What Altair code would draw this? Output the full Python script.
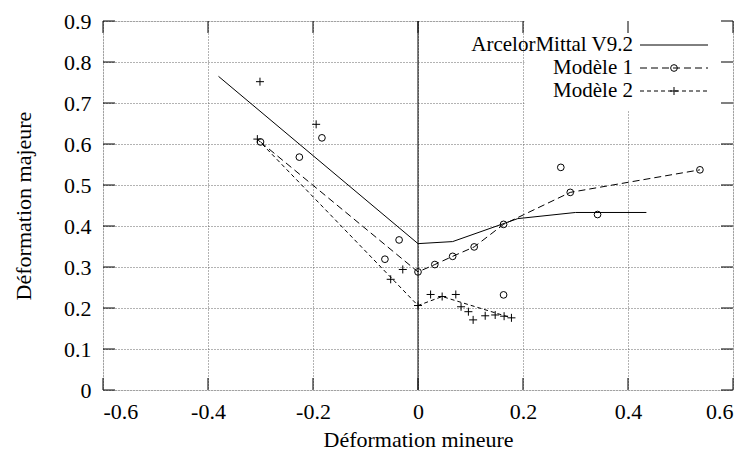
import altair as alt
import pandas as pd

# ---- data ----
AM_X = [-0.38, 0.0, 0.066, 0.19, 0.30, 0.435]
AM_Y = [0.765, 0.357, 0.362, 0.418, 0.433, 0.433]

M1_LINE_X = [-0.300, 0.0, 0.032, 0.066, 0.107, 0.163, 0.290, 0.537]
M1_LINE_Y = [0.605, 0.288, 0.306, 0.326, 0.349, 0.404, 0.482, 0.537]
M1_PTS_X = [-0.183, -0.226, -0.036, -0.063, 0.163, 0.272, 0.342]
M1_PTS_Y = [0.615, 0.568, 0.366, 0.319, 0.232, 0.543, 0.428]

M2_LINE_X = [-0.306, 0.0, 0.046, 0.178]
M2_LINE_Y = [0.612, 0.206, 0.228, 0.176]
M2_PTS_X = [-0.301, -0.194, -0.029, -0.052, 0.024, 0.072, 0.082, 0.096, 0.105, 0.128, 0.147, 0.164]
M2_PTS_Y = [0.752, 0.648, 0.294, 0.270, 0.233, 0.233, 0.203, 0.191, 0.171, 0.181, 0.183, 0.180]

SERIES = ["ArcelorMittal V9.2", "Modèle 1", "Modèle 2"]
X_TICKS = [-0.6, -0.4, -0.2, 0.0, 0.2, 0.4, 0.6]
Y_TICKS = [0.0, 0.1, 0.2, 0.3, 0.4, 0.5, 0.6, 0.7, 0.8, 0.9]

X_TITLE = "Déformation mineure"
Y_TITLE = "Déformation majeure"

# ---- layout / style ----
W, H = 630, 369
FONT = "Liberation Serif"
FS = 22
LFS = 21
TICK = 12
DASH1 = [7, 4]
DASH2 = [4, 3]
PLUS = "M-1,0L1,0M0,-1L0,1"

LABEL_EXPR = "datum.value == 0 ? '0' : replace(format(datum.value, '.1f'), '\u2212', '-')"

xs = alt.Scale(domain=[-0.6, 0.6], nice=False, zero=False)
ys = alt.Scale(domain=[0, 0.9], nice=False, zero=False)

xaxis = alt.Axis(values=X_TICKS, labelExpr=LABEL_EXPR, ticks=False, domain=False,
                 grid=True, gridColor="#666", gridDash=[1, 2], gridWidth=1,
                 labelPadding=11, labelFont=FONT, labelFontSize=FS, labelColor="black",
                 title=X_TITLE, titleFont=FONT, titleFontSize=FS, titleFontWeight="normal",
                 titleColor="black", titleX=W / 2, titleY=49, titleBaseline="middle")
yaxis = alt.Axis(values=Y_TICKS, labelExpr=LABEL_EXPR, ticks=False, domain=False,
                 grid=True, gridColor="#666", gridDash=[1, 2], gridWidth=1,
                 labelPadding=12, labelFont=FONT, labelFontSize=FS, labelColor="black",
                 title=Y_TITLE, titleFont=FONT, titleFontSize=FS, titleFontWeight="normal",
                 titleColor="black", titleX=-80, titleY=H / 2, titleBaseline="middle",
                 titleAngle=-90)

am = pd.DataFrame({"x": AM_X, "y": AM_Y, "i": range(len(AM_X))})
m1l = pd.DataFrame({"x": M1_LINE_X, "y": M1_LINE_Y, "i": range(len(M1_LINE_X))})
m1p = pd.DataFrame({"x": M1_PTS_X, "y": M1_PTS_Y})
m2l = pd.DataFrame({"x": M2_LINE_X, "y": M2_LINE_Y, "i": range(len(M2_LINE_X))})
m2p = pd.DataFrame({"x": M2_PTS_X, "y": M2_PTS_Y})
xt = pd.DataFrame({"v": X_TICKS})
yt = pd.DataFrame({"v": Y_TICKS})
one = pd.DataFrame({"a": [0]})

base = alt.Chart(xt).mark_rule(opacity=0).encode(
    x=alt.X("v:Q", scale=xs, axis=xaxis),
    y=alt.Y("v:Q", scale=ys, axis=yaxis),
)

# white key background (hides grid inside legend box)
keybox = alt.Chart(one).mark_rect(fill="white").encode(
    x=alt.value(421.5), x2=alt.value(W), y=alt.value(0), y2=alt.value(89)
)

zero = alt.Chart(pd.DataFrame({"z": [0.0]})).mark_rule(color="black", strokeWidth=1).encode(
    x=alt.X("z:Q", scale=xs)
)

def line(df, dash):
    kw = dict(color="black", strokeWidth=1)
    if dash:
        kw["strokeDash"] = dash
    return alt.Chart(df).mark_line(**kw).encode(
        x=alt.X("x:Q", scale=xs), y=alt.Y("y:Q", scale=ys), order="i:Q"
    )

def pts(df, shape, size):
    return alt.Chart(df).mark_point(shape=shape, size=size, filled=False,
                                    color="black", strokeWidth=1, opacity=1).encode(
        x=alt.X("x:Q", scale=xs), y=alt.Y("y:Q", scale=ys)
    )

am_line = line(am, None)
m1_line = line(m1l, DASH1)
m1_pts = pts(m1l, "circle", 45) + pts(m1p, "circle", 45)
m2_line = line(m2l, DASH2)
m2_pts = pts(m2l, PLUS, 64) + pts(m2p, PLUS, 64)

# inward ticks on all four sides
tb = alt.Chart(xt).mark_rule(color="black").encode(
    x=alt.X("v:Q", scale=xs), y=alt.value(H), y2=alt.value(H - TICK))
tt = alt.Chart(xt).mark_rule(color="black").encode(
    x=alt.X("v:Q", scale=xs), y=alt.value(0), y2=alt.value(TICK))
tl = alt.Chart(yt).mark_rule(color="black").encode(
    y=alt.Y("v:Q", scale=ys), x=alt.value(0), x2=alt.value(TICK))
tr = alt.Chart(yt).mark_rule(color="black").encode(
    y=alt.Y("v:Q", scale=ys), x=alt.value(W - TICK), x2=alt.value(W))

# legend (key)
ROWS = [24, 47, 70]
TX = 530
LX0, LX1 = 537, 605
leg = []
for name, ry, dash, shape, size in [
    (SERIES[0], ROWS[0], None, None, 0),
    (SERIES[1], ROWS[1], DASH1, "circle", 45),
    (SERIES[2], ROWS[2], DASH2, PLUS, 64),
]:
    d = pd.DataFrame({"t": [name]})
    leg.append(alt.Chart(d).mark_text(align="right", baseline="middle", font=FONT,
                                      fontSize=LFS, color="black").encode(
        text="t:N", x=alt.value(TX), y=alt.value(ry)))
    kw = dict(color="black", strokeWidth=1)
    if dash:
        kw["strokeDash"] = dash
    leg.append(alt.Chart(d).mark_rule(**kw).encode(
        x=alt.value(LX0), x2=alt.value(LX1), y=alt.value(ry)))
    if shape:
        leg.append(alt.Chart(d).mark_point(shape=shape, size=size, filled=False,
                                           color="black", strokeWidth=1, opacity=1).encode(
            x=alt.value((LX0 + LX1) / 2), y=alt.value(ry)))

chart = alt.layer(
    base, keybox, zero, am_line, m1_line, m2_line, m1_pts, m2_pts,
    tb, tt, tl, tr, *leg
).properties(
    width=W, height=H,
    autosize=alt.AutoSizeParams(type="none"),
    padding={"left": 95, "top": 13, "right": 12, "bottom": 60},
).configure_view(
    stroke="black", strokeWidth=1
).configure_axis(
    labelFont=FONT, titleFont=FONT, labelFontSize=FS, titleFontSize=FS
).configure_text(font=FONT).configure(background="white")

chart.save("out.html", embed_options={"renderer": "svg", "actions": False})
